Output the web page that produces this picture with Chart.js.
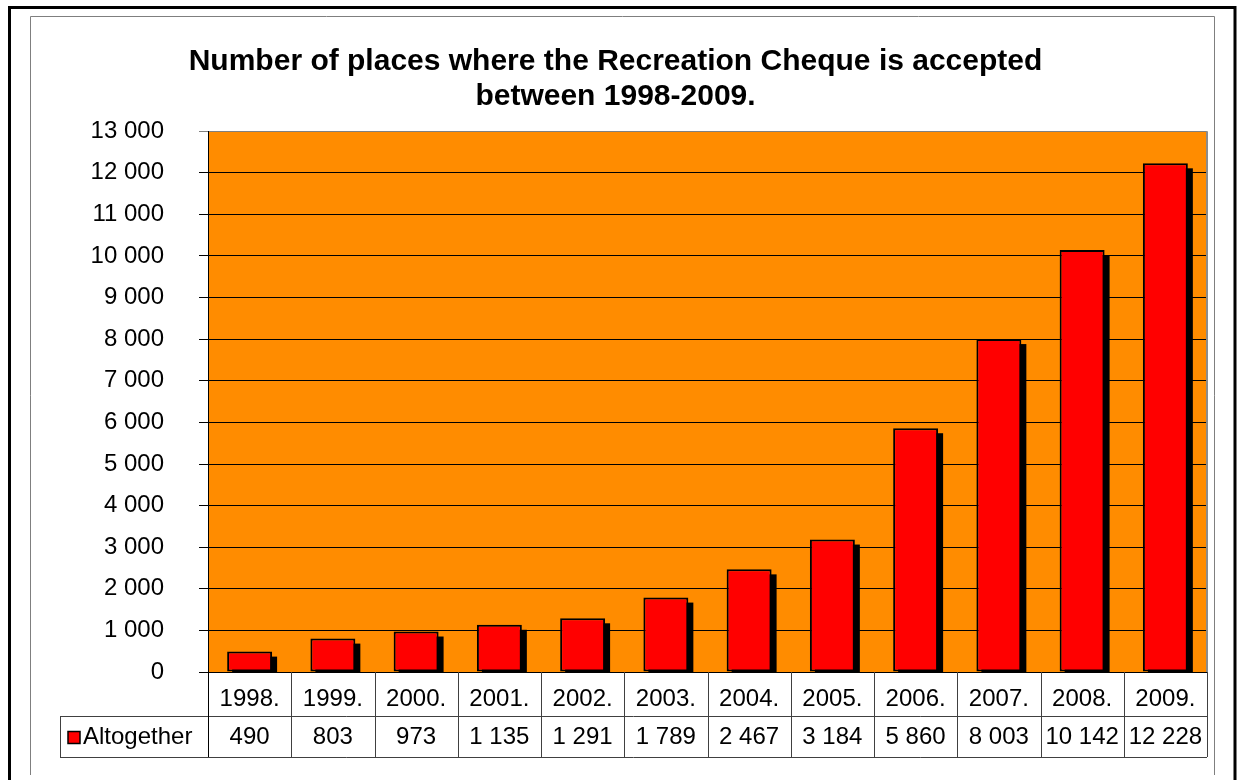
<!DOCTYPE html>
<html>
<head>
<meta charset="utf-8">
<title>Recreation Cheque</title>
<script src="https://cdn.jsdelivr.net/npm/chart.js@4.4.1/dist/chart.umd.min.js"></script>
<style>
    body { margin: 0; background: #fff; }
    canvas { display: block; }
</style>
</head>
<body>
<canvas id="lugares" width="1237" height="780"></canvas>
<script>
var years = ['1998.', '1999.', '2000.', '2001.', '2002.', '2003.', '2004.', '2005.', '2006.', '2007.', '2008.', '2009.'];
var places = [490, 803, 973, 1135, 1291, 1789, 2467, 3184, 5860, 8003, 10142, 12228];
var seriesName = 'Altogether';
var titleLines = ['Number of places where the Recreation Cheque is accepted', 'between 1998-2009.'];
var yMax = 13000;
var yStep = 1000;

var fontFamily = '"Liberation Sans", Arial, sans-serif';

// 12228 -> "12 228"
function miles(v) {
    return String(v).replace(/\B(?=(\d{3})+(?!\d))/g, ' ');
}

// frames around the whole chart + orange plot background
var fondo = {
    id: 'fondo',
    beforeDraw: function (chart) {
        var c = chart.ctx;
        var a = chart.chartArea;
        c.save();
        c.fillStyle = '#fff';
        c.fillRect(0, 0, chart.width, chart.height);

        c.strokeStyle = '#000';
        c.lineWidth = 3;
        c.beginPath();
        c.moveTo(9.5, chart.height);
        c.lineTo(9.5, 7.5);
        c.lineTo(1235, 7.5);
        c.lineTo(1235, chart.height);
        c.stroke();

        c.strokeStyle = '#7f7f7f';
        c.lineWidth = 1;
        c.beginPath();
        c.moveTo(30.5, 775);
        c.lineTo(30.5, 16.5);
        c.lineTo(1214.5, 16.5);
        c.lineTo(1214.5, 775);
        c.stroke();

        c.fillStyle = '#FF8C00';
        c.fillRect(a.left, a.top, a.right - a.left, a.bottom - a.top);
        c.restore();
    }
};

// hard black drop shadow behind each bar (the bar element clips itself,
// so the shadow is drawn from the bar geometry before the bars go down)
var sombra = {
    id: 'sombra',
    beforeDatasetsDraw: function (chart) {
        var c = chart.ctx;
        var a = chart.chartArea;
        var meta = chart.getDatasetMeta(0);
        c.save();
        c.beginPath();
        c.rect(a.left, a.top, a.right - a.left, a.bottom - a.top);
        c.clip();
        c.fillStyle = '#000';
        meta.data.forEach(function (bar) {
            var p = bar.getProps(['x', 'y', 'base', 'width'], true);
            c.fillRect(p.x - p.width / 2 + 5, p.y + 5, p.width, p.base - p.y);
        });
        c.restore();
    }
};

// data table under the x axis
var tabla = {
    id: 'tabla',
    afterDraw: function (chart) {
        var c = chart.ctx;
        var a = chart.chartArea;
        var x = chart.scales.x;
        var w = (a.right - a.left) / years.length;
        var row1 = a.bottom + 44;
        var row2 = a.bottom + 85;
        var left = 60;

        c.save();
        c.strokeStyle = '#404040';
        c.lineWidth = 1;
        c.beginPath();
        c.moveTo(left, Math.round(row1) + 0.5);
        c.lineTo(a.right, Math.round(row1) + 0.5);
        c.moveTo(left, Math.round(row2) + 0.5);
        c.lineTo(a.right, Math.round(row2) + 0.5);
        c.moveTo(left + 0.5, row1);
        c.lineTo(left + 0.5, row2);
        for (var i = 1; i <= years.length; i++) {
            var gx = Math.round(a.left + w * i) + 0.5;
            c.moveTo(gx, a.bottom);
            c.lineTo(gx, row2);
        }
        c.stroke();

        // plot area edges
        c.strokeStyle = '#8c8c8c';
        c.lineWidth = 2;
        c.beginPath();
        c.moveTo(a.right, a.top);
        c.lineTo(a.right, a.bottom);
        c.stroke();

        c.strokeStyle = '#000';
        c.lineWidth = 1;
        c.beginPath();
        c.moveTo(Math.round(a.left) + 0.5, a.top);
        c.lineTo(Math.round(a.left) + 0.5, row2);
        c.stroke();

        // values row
        c.font = '24px ' + fontFamily;
        c.fillStyle = '#000';
        c.textAlign = 'center';
        c.textBaseline = 'middle';
        var midY = (row1 + row2) / 2 + 1;
        for (var j = 0; j < places.length; j++) {
            c.fillText(miles(places[j]), x.getPixelForValue(j), midY);
        }

        // legend key
        c.fillStyle = '#FF0000';
        c.fillRect(68, midY - 6, 12, 12);
        c.strokeStyle = '#000';
        c.lineWidth = 1.5;
        c.strokeRect(68, midY - 6, 12, 12);
        c.fillStyle = '#000';
        c.textAlign = 'left';
        c.fillText(seriesName, 83, midY);
        c.restore();
    }
};

var chart_lugares = new Chart(document.getElementById('lugares').getContext('2d'), {
    type: 'bar',
    data: {
        labels: years,
        datasets: [{
            label: seriesName,
            data: places,
            backgroundColor: '#FF0000',
            borderColor: '#000',
            borderWidth: 2,
            borderSkipped: false,
            categoryPercentage: 1,
            barPercentage: 0.54
        }]
    },
    options: {
        responsive: false,
        animation: false,
        layout: { padding: { top: 0, left: 24, right: 30, bottom: 23 } },
        plugins: {
            legend: { display: false },
            tooltip: { enabled: false },
            title: {
                display: true,
                text: titleLines,
                color: '#000',
                font: { family: fontFamily, size: 30, weight: 'bold', lineHeight: 1.17 },
                padding: { top: 44, bottom: 17 }
            }
        },
        scales: {
            x: {
                offset: true,
                grid: { display: false },
                border: { display: false },
                ticks: {
                    color: '#000',
                    padding: 5,
                    maxRotation: 0,
                    font: { family: fontFamily, size: 24 }
                },
                afterFit: function (s) { s.height = 85; }
            },
            y: {
                min: 0,
                max: yMax,
                border: { display: true, color: '#000', width: 1 },
                grid: {
                    color: function (ctx) { return ctx.tick && ctx.tick.value === yMax ? '#808080' : '#000'; },
                    lineWidth: 1,
                    tickLength: 9
                },
                ticks: {
                    stepSize: yStep,
                    color: '#000',
                    padding: 35,
                    font: { family: fontFamily, size: 24 },
                    callback: function (v) { return miles(v); }
                },
                afterFit: function (s) { s.width = 184; }
            }
        }
    },
    plugins: [fondo, sombra, tabla]
});
</script>
</body>
</html>
